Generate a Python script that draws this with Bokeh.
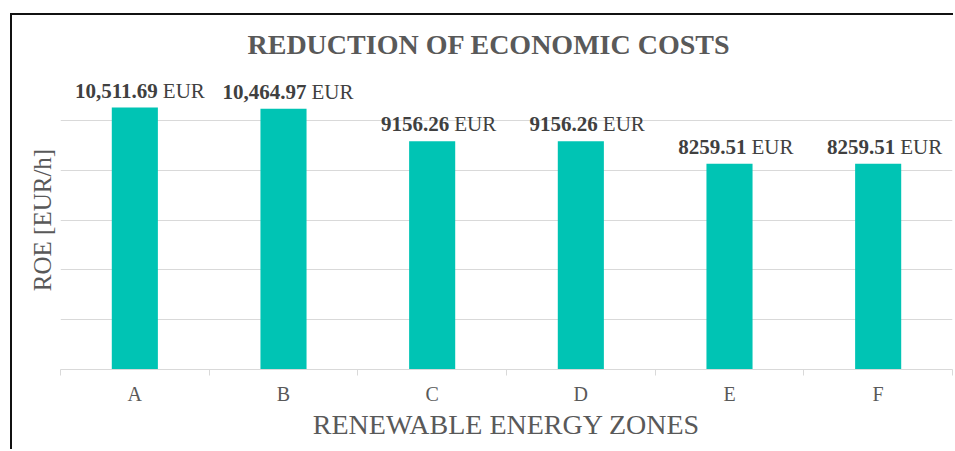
from bokeh.plotting import figure
from bokeh.models import ColumnDataSource, Range1d, FixedTicker, Title
from bokeh.core.properties import value
from bokeh.embed import file_html
from bokeh.resources import INLINE

categories = ["A", "B", "C", "D", "E", "F"]
roe_values = [10511.69, 10464.97, 9156.26, 9156.26, 8259.51, 8259.51]
value_labels = ["10,511.69", "10,464.97", "9156.26", "9156.26", "8259.51", "8259.51"]
unit_label = "EUR"
y_ticks = [0, 2000, 4000, 6000, 8000, 10000, 12000]

FONT = "Liberation Serif"
GRAY = "#595959"
DARK = "#404040"

xs = list(range(1, len(categories) + 1))
offsets = [17 + 3 * (len(s) - 7) for s in value_labels]
src = ColumnDataSource(dict(
    x=xs, top=roe_values, num=value_labels, unit=[unit_label] * len(xs),
    off_num=offsets, off_unit=[o + 5 for o in offsets],
))

p = figure(
    frame_width=892, frame_height=299,
    min_border_left=48, min_border_right=1, min_border_top=55, min_border_bottom=80,
    x_range=Range1d(0.5, len(categories) + 0.5), y_range=Range1d(0, 12000),
    output_backend="svg", toolbar_location=None, tools="",
)
p.margin = (13, 0, 0, 10)
p.styles = {"border-left": "2px solid #111111", "border-top": "2px solid #111111"}
p.outline_line_color = None
p.background_fill_color = "white"
p.border_fill_color = "white"

p.title = Title(text="REDUCTION OF ECONOMIC COSTS", align="left", offset=187,
                text_font=FONT, text_font_size="28px", text_font_style="bold",
                text_color=GRAY, standoff=22)

p.vbar(x="x", top="top", width=0.31, source=src, fill_color="#00C4B4", line_color=None)

p.text(x="x", y="top", text="num", x_offset="off_num", y_offset=-17, source=src,
       text_align="right", text_baseline="alphabetic", text_font=value(FONT),
       text_font_size="21px", text_font_style="bold", text_color=DARK)
p.text(x="x", y="top", text="unit", x_offset="off_unit", y_offset=-17, source=src,
       text_align="left", text_baseline="alphabetic", text_font=value(FONT),
       text_font_size="21px", text_color=DARK)

# x axis
p.xaxis.ticker = FixedTicker(ticks=xs, minor_ticks=[x - 0.5 for x in xs] + [xs[-1] + 0.5])
p.xaxis.major_label_overrides = {x: c for x, c in zip(xs, categories)}
p.xaxis.major_tick_line_color = None
p.xaxis.major_tick_in = 0
p.xaxis.major_tick_out = 0
p.xaxis.minor_tick_in = 0
p.xaxis.minor_tick_out = 6
p.xaxis.minor_tick_line_color = "#d9d9d9"
p.xaxis.axis_line_color = "#d9d9d9"
p.xaxis.major_label_standoff = 7
p.xaxis.major_label_text_font = FONT
p.xaxis.major_label_text_font_size = "20px"
p.xaxis.major_label_text_color = GRAY
p.xaxis.axis_label = "RENEWABLE ENERGY ZONES"
p.xaxis.axis_label_text_font = FONT
p.xaxis.axis_label_text_font_size = "28px"
p.xaxis.axis_label_text_font_style = "normal"
p.xaxis.axis_label_text_color = GRAY
p.xaxis.axis_label_standoff = 1
p.xgrid.grid_line_color = None

# y axis: no tick labels, only the axis title and grid
p.yaxis.ticker = FixedTicker(ticks=[])
p.yaxis.major_tick_line_color = None
p.yaxis.minor_tick_line_color = None
p.yaxis.major_tick_out = 0
p.yaxis.major_label_standoff = 0
p.yaxis.axis_line_color = None
p.yaxis.axis_label = "ROE [EUR/h]"
p.yaxis.axis_label_text_font = FONT
p.yaxis.axis_label_text_font_size = "25px"
p.yaxis.axis_label_text_font_style = "normal"
p.yaxis.axis_label_text_color = GRAY
p.yaxis.axis_label_standoff = 5
p.ygrid.ticker = FixedTicker(ticks=y_ticks)
p.ygrid.grid_line_color = "#d9d9d9"
p.ygrid.grid_line_width = 1

open("out.html", "w").write(file_html(p, INLINE))
